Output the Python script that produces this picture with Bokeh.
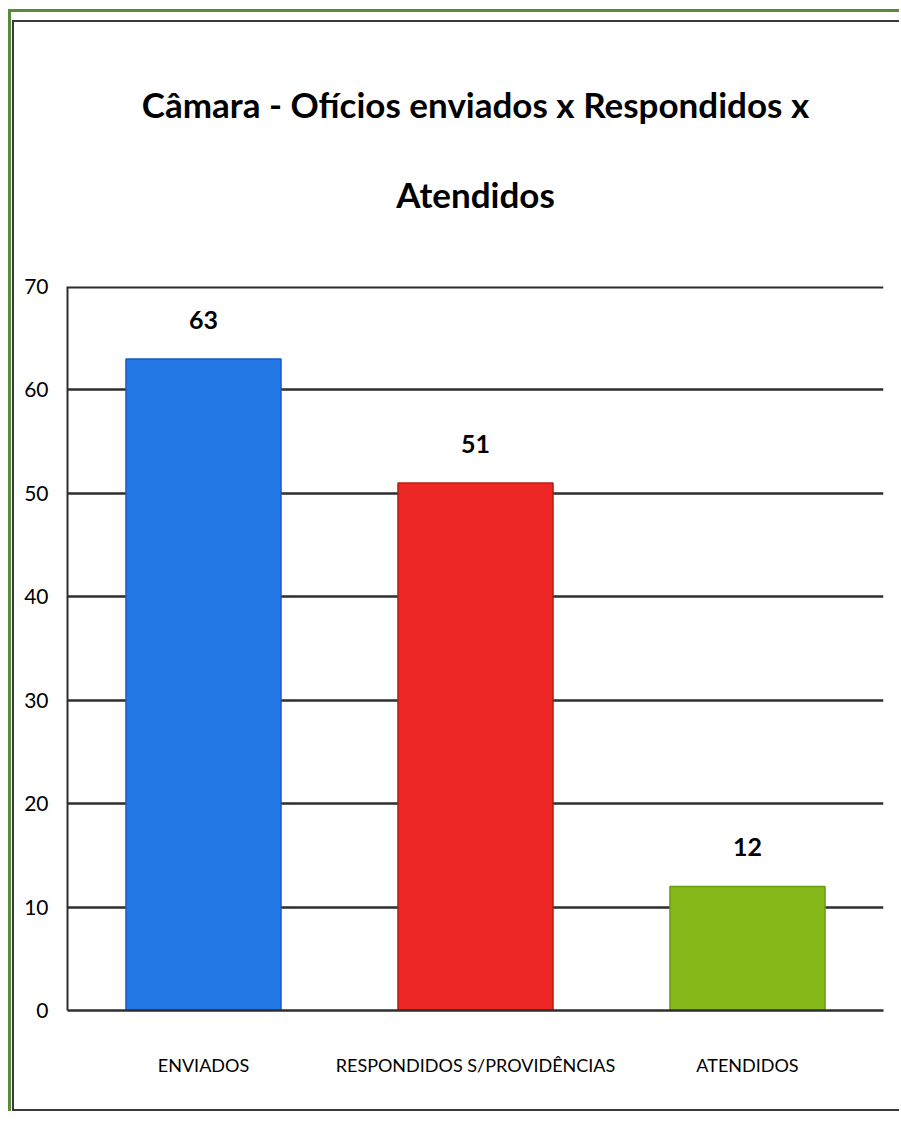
from bokeh.plotting import figure
from bokeh.models import Range1d, FixedTicker, ColumnDataSource, LabelSet, Title, Span
from bokeh.core.properties import value
from bokeh.layouts import column
from bokeh.embed import file_html
from bokeh.resources import INLINE

categories = ["ENVIADOS", "RESPONDIDOS S/PROVIDÊNCIAS", "ATENDIDOS"]
values = [63, 51, 12]
fill_colors = ["#2479E6", "#ED2724", "#86B81A"]
line_colors = ["#1A5BC4", "#B81C1A", "#6A9A10"]
y_ticks = [0, 10, 20, 30, 40, 50, 60, 70]
title_lines = ["Câmara - Ofícios enviados x Respondidos x", "Atendidos"]

FONT = "Lato"
GRID = "#2E2E2E"

src = ColumnDataSource(dict(cat=categories, val=values, fill=fill_colors,
                            line=line_colors, lbl=[str(v) for v in values]))

p = figure(x_range=categories, y_range=Range1d(y_ticks[0], y_ticks[-1]),
           width=887, height=1091,
           output_backend="svg", toolbar_location=None,
           min_border_left=53, min_border_right=18, min_border_top=264,
           min_border_bottom=103)
p.outline_line_color = None
p.background_fill_color = "white"
p.border_fill_color = "white"

p.vbar(x="cat", top="val", width=0.57, source=src, fill_color="fill",
       line_color="line", line_width=1.5)

labels = LabelSet(x="cat", y="val", text="lbl", source=src, y_offset=39,
                  text_align="center", text_baseline="middle",
                  text_font=value(FONT), text_font_style="bold",
                  text_font_size="25px", text_color="black")
p.add_layout(labels)

p.xgrid.grid_line_color = None
p.ygrid.ticker = FixedTicker(ticks=y_ticks)
p.ygrid.grid_line_color = GRID
p.ygrid.grid_line_width = 2.5
p.add_layout(Span(location=y_ticks[-1], dimension="width", line_color=GRID,
                  line_width=4))

p.yaxis.ticker = FixedTicker(ticks=y_ticks)
p.yaxis.major_tick_line_color = None
p.yaxis.minor_tick_line_color = None
p.yaxis.axis_line_color = GRID
p.yaxis.axis_line_width = 2
p.yaxis.major_label_standoff = 13
p.yaxis.major_label_text_font = FONT
p.yaxis.major_label_text_font_size = "21px"
p.yaxis.major_label_text_color = "black"

p.xaxis.major_tick_line_color = None
p.xaxis.minor_tick_line_color = None
p.xaxis.axis_line_color = GRID
p.xaxis.axis_line_width = 2.5
p.xaxis.major_label_standoff = 37
p.xaxis.major_label_text_font = FONT
p.xaxis.major_label_text_font_size = "18px"
p.xaxis.major_label_text_color = "black"

p.title.text = ""
# spacer between frame and title block
p.add_layout(Title(text=" ", text_font_size="10px", standoff=36), "above")
p.add_layout(Title(text=title_lines[1], align="center", text_font=FONT,
                   text_font_style="bold", text_font_size="35px",
                   text_color="black", standoff=46), "above")
p.add_layout(Title(text=title_lines[0], align="center", text_font=FONT,
                   text_font_style="bold", text_font_size="35px",
                   text_color="black", standoff=46), "above")

p.styles = {"border-left": "2px solid #3A3A3A", "border-top": "2px solid #3A3A3A",
            "border-bottom": "2px solid #3A3A3A"}

outer = column(p, styles={"border-left": "3px solid #5B8A3A",
                          "border-top": "3px solid #5B8A3A",
                          "padding-left": "1px", "padding-top": "8px",
                          "margin-left": "8px", "margin-top": "9px"})

open("out.html", "w").write(file_html(outer, INLINE))
